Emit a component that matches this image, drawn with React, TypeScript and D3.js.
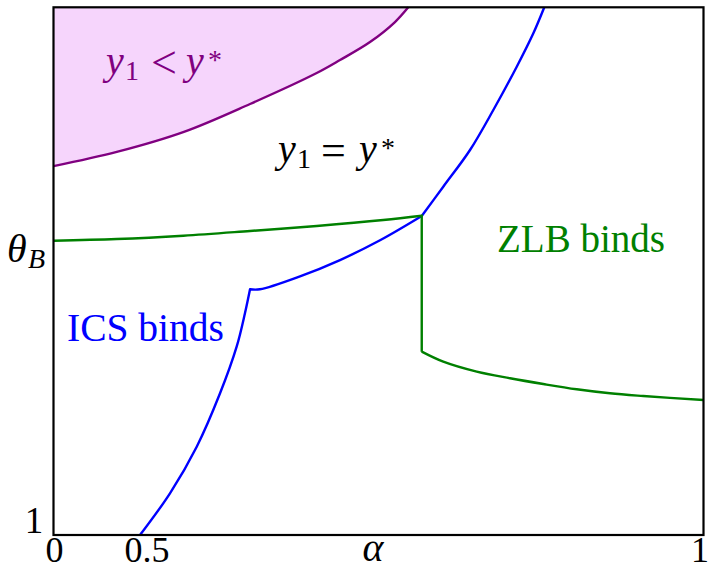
import React from "react";
import * as d3 from "d3";

const W = 709;
const H = 570;

// Axis ticks
const alphaTicks = [0, 0.5, 1];
const alphaTickLabels = ["0", "0.5", "1"];
const thetaB = 1.514;
const thetaTicks = [1, thetaB];

// Boundary where y1 = y* starts to bind (purple), as (alpha, theta)
const purpleAlpha = [0, 0.342, 0.534, 0.5933, 0.6531, 0.674, 0.7009, 0.7233, 0.7352];
const purpleTheta = [1.699, 1.726, 1.764, 1.8168, 1.8755, 1.9001, 1.9342, 1.9721, 2.0];

// ICS boundary (blue): lower branch, middle branch, upper branch
const blueLowAlpha = [0.4676, 0.5215, 0.5455, 0.5664, 0.5813, 0.5888, 0.5933];
const blueLowTheta = [1.0, 1.079, 1.1673, 1.2685, 1.3568, 1.4207, 1.4656];
const blueMidAlpha = [0.5933, 0.6022, 0.6381, 0.674, 0.7099, 0.7473];
const blueMidTheta = [1.4656, 1.4656, 1.4901, 1.521, 1.5585, 1.6045];
const blueTopAlpha = [0.7473, 0.7666, 0.7906, 0.8115, 0.8325, 0.8474, 0.8572];
const blueTopTheta = [1.6045, 1.66, 1.7296, 1.8054, 1.8874, 1.9507, 2.0];

// ZLB boundary (green): left branch, vertical drop, right branch
const greenLeftAlpha = [0, 0.3416, 0.5335, 0.5933, 0.6531, 0.7128, 0.7473];
const greenLeftTheta = [1.5577, 1.5609, 1.5672, 1.5761, 1.5856, 1.5969, 1.6051];
const greenRightAlpha = [0.7473, 0.7666, 0.7966, 0.8265, 0.8563, 0.8863, 0.9161, 0.946, 1.0];
const greenRightTheta = [1.3474, 1.3284, 1.3095, 1.297, 1.2861, 1.2761, 1.2685, 1.2634, 1.2558];

type Pt = [number, number];
const zip = (a: number[], t: number[]): Pt[] => a.map((v, i) => [v, t[i]]);

const FONT = "'Liberation Serif', 'Times New Roman', serif";

export default function App() {
  const left = 53.5;
  const right = 703.5;
  const top = 7.3;
  const bottom = 535;

  const x = d3.scaleLinear().domain([0, 0.5, 1]).range([left, 146, right]);
  const y = d3.scaleLinear().domain([1, 2]).range([bottom, top]);

  const curve = d3.curveCatmullRom.alpha(0.5);

  const line = d3
    .line<Pt>()
    .x((d) => x(d[0]))
    .y((d) => y(d[1]))
    .curve(curve);

  const area = d3
    .area<Pt>()
    .x((d) => x(d[0]))
    .y0(y(2))
    .y1((d) => y(d[1]))
    .curve(curve);

  const purple = zip(purpleAlpha, purpleTheta);
  const blueLow = zip(blueLowAlpha, blueLowTheta);
  const blueMid = zip(blueMidAlpha, blueMidTheta);
  const blueTop = zip(blueTopAlpha, blueTopTheta);
  const greenLeft = zip(greenLeftAlpha, greenLeftTheta);
  const greenRight = zip(greenRightAlpha, greenRightTheta);

  const greenPath =
    (line(greenLeft) || "") +
    `L${x(greenRight[0][0])},${y(greenRight[0][1])}` +
    (line(greenRight) || "").replace(/^M/, "L");
  const bluePath =
    (line(blueLow) || "") +
    (line(blueMid) || "").replace(/^M/, "L") +
    (line(blueTop) || "").replace(/^M/, "L");

  const sw = 2.4;

  return (
    <svg
      width={W}
      height={H}
      style={{ position: "absolute", left: 0, top: 0, background: "#fff" }}
      fontFamily={FONT}
    >
      <rect x={0} y={0} width={W} height={H} fill="#fff" />
      {/* region where y1 < y* */}
      <path d={area(purple) || ""} fill="#f6d5fc" stroke="none" />

      <path d={line(purple) || ""} fill="none" stroke="#800080" strokeWidth={sw} />
      <path d={bluePath} fill="none" stroke="#0000ff" strokeWidth={sw} strokeLinejoin="round" />
      <path d={greenPath} fill="none" stroke="#008000" strokeWidth={sw} />

      {/* frame */}
      <rect
        x={left}
        y={top}
        width={right - left}
        height={bottom - top}
        fill="none"
        stroke="#000"
        strokeWidth={2.2}
      />

      {/* x tick labels; the last one is kept inside the canvas */}
      {alphaTicks.map((v, i) => {
        const last = i === alphaTicks.length - 1;
        return (
          <text
            key={"xt" + i}
            x={last ? Math.min(x(v) + 10, W) : x(v) + 1}
            y={562}
            fontSize={36}
            textAnchor={last ? "end" : "middle"}
            fill="#000"
          >
            {alphaTickLabels[i]}
          </text>
        );
      })}
      {/* y tick labels */}
      <text x={34} y={y(thetaTicks[0]) - 2} fontSize={37} textAnchor="middle">
        1
      </text>
      <text y={y(thetaTicks[1]) - 2} fontSize={40}>
        <tspan x={7} fontStyle="italic">θ</tspan>
        <tspan x={28} dy={6} fontSize={28} fontStyle="italic">B</tspan>
      </text>

      {/* axis title */}
      <text x={373} y={561} fontSize={40} fontStyle="italic" textAnchor="middle">
        α
      </text>

      {/* region labels */}
      <g fill="#800080" fontSize={40}>
        <text x={106} y={74} fontStyle="italic">y</text>
        <text x={125} y={80} fontSize={28}>1</text>
        <text x={151} y={78} fontSize={46}>&lt;</text>
        <text x={186} y={74} fontStyle="italic">y</text>
        <text x={208} y={69} fontSize={28}>*</text>
      </g>
      <g fill="#000" fontSize={40}>
        <text x={278} y={162} fontStyle="italic">y</text>
        <text x={297} y={168} fontSize={28}>1</text>
        <text x={321} y={165} fontSize={44}>=</text>
        <text x={359} y={162} fontStyle="italic">y</text>
        <text x={381} y={157} fontSize={28}>*</text>
      </g>
      <text x={497} y={252} fontSize={40} fill="#008000" textLength={168} lengthAdjust="spacingAndGlyphs">
        ZLB binds
      </text>
      <text x={67} y={341} fontSize={40} fill="#0000ff" textLength={157} lengthAdjust="spacingAndGlyphs">
        ICS binds
      </text>
    </svg>
  );
}
